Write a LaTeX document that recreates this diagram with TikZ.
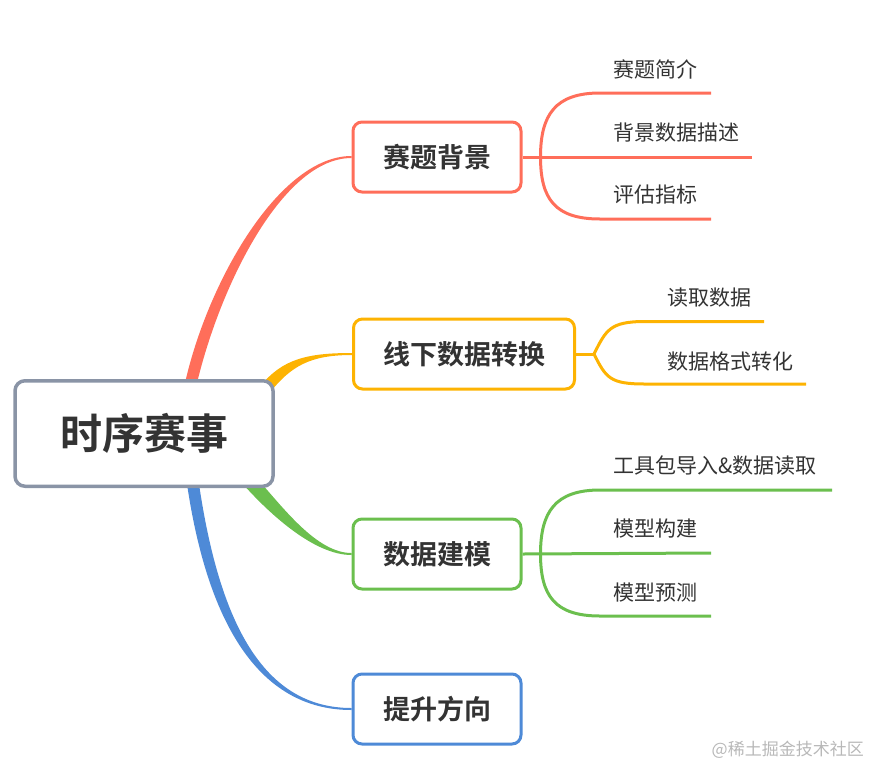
\documentclass[tikz,border=0pt]{standalone}
\usepackage{fontspec}
\setmainfont{Noto Sans CJK SC}[BoldFont={Noto Sans CJK SC Bold}]
\usetikzlibrary{positioning,backgrounds}
\definecolor{redc}{HTML}{FF6E5A}
\definecolor{orangec}{HTML}{FDB302}
\definecolor{greenc}{HTML}{6BBF4E}
\definecolor{bluec}{HTML}{4E8AD7}
\definecolor{grayc}{HTML}{8A94A6}
\definecolor{textc}{HTML}{333333}

\tikzset{
  topic/.style={draw, line width=3pt, rounded corners=9pt, fill=white,
    text=textc, font=\fontsize{27}{31}\selectfont\bfseries,
    minimum width=168pt, minimum height=70pt, inner sep=0pt},
  leaf/.style={anchor=west, text=textc, font=\fontsize{21}{24}\selectfont,
    inner sep=0pt},
  twig/.style={line width=3pt},
}

\begin{document}
\begin{tikzpicture}[x=1pt,y=-1pt]
  \useasboundingbox (0,0) rectangle (874,763);

  % main topic
  \node (root) [draw=grayc, line width=3.5pt, rounded corners=10pt,
                fill=white, text=textc, inner sep=0pt,
                minimum width=258pt, minimum height=105.5pt,
                font=\fontsize{42}{48}\selectfont\bfseries]
        at (144,433.5) {时序赛事};

  % topics
  \node (bg) [topic, draw=redc] at (437,157) {赛题背景};
  \node (zh) [topic, draw=orangec, minimum width=221pt] at (464,354) {线下数据转换};
  \node (jm) [topic, draw=greenc] at (437,554) {数据建模};
  \node (ts) [topic, draw=bluec] at (437,709) {提升方向};

  % tapered branches behind the main topic
  \begin{pgfonlayer}{background}
    \fill [redc] ([xshift=41pt,yshift=-4pt]root.north)
          .. controls +(23,-102) and +(-72,0) .. ([yshift=1pt]bg.west)
          -- ([yshift=-1pt]bg.west)
          .. controls +(-68,0) and +(24,-100) .. ([xshift=53pt,yshift=-4pt]root.north)
          -- cycle;
    \fill [orangec] ([xshift=-15pt,yshift=-8pt]root.north east)
          .. controls +(22,-28) and +(-45,0) .. ([yshift=1pt]zh.west)
          -- ([yshift=-1pt]zh.west)
          .. controls +(-42,0) and +(22,-28) .. ([xshift=-6pt,yshift=-15pt]root.north east)
          -- cycle;
    \fill [greenc] ([xshift=-31pt,yshift=3pt]root.south east)
          .. controls +(27,30) and +(-37,0) .. ([yshift=-1pt]jm.west)
          -- ([yshift=1pt]jm.west)
          .. controls +(-35,0) and +(27,30) .. ([xshift=-19pt,yshift=11pt]root.south east)
          -- cycle;
    \fill [bluec] ([xshift=43pt,yshift=4pt]root.south)
          .. controls +(20,135) and +(-95,0) .. ([yshift=-1pt]ts.west)
          -- ([yshift=1pt]ts.west)
          .. controls +(-90,0) and +(20,135) .. ([xshift=55pt,yshift=4pt]root.south)
          -- cycle;
  \end{pgfonlayer}

  % subtopics of 赛题背景
  \coordinate (bgf) at ([xshift=18pt]bg.east);
  \coordinate (bg1) at (711,93);
  \coordinate (bg2) at (752,157);
  \coordinate (bg3) at (711,219);
  \draw [twig, redc] (bg.east) -- (bg2);
  \draw [twig, redc] (bgf) .. controls +(0,-42) and +(-45,0) .. (600,93) -- (bg1);
  \draw [twig, redc] (bgf) .. controls +(0,42) and +(-45,0) .. (600,219) -- (bg3);
  \node (bgt1) [leaf] at (613,69.5) {赛题简介};
  \node (bgt2) [leaf] at (613,132.5) {背景数据描述};
  \node (bgt3) [leaf] at (613,195) {评估指标};

  % subtopics of 线下数据转换
  \coordinate (zhf) at ([xshift=18pt]zh.east);
  \coordinate (zh1) at (764,321.5);
  \coordinate (zh2) at (806,384);
  \draw [twig, orangec] (zh.east) -- (zhf);
  \draw [twig, orangec] (zhf) .. controls +(12,-24) and +(-35,0) .. (645,321.5) -- (zh1);
  \draw [twig, orangec] (zhf) .. controls +(12,24) and +(-35,0) .. (645,384) -- (zh2);
  \node (zht1) [leaf] at (667,297.5) {读取数据};
  \node (zht2) [leaf] at (667,361.5) {数据格式转化};

  % subtopics of 数据建模
  \coordinate (jmf) at ([xshift=18pt]jm.east);
  \coordinate (jm1) at (832,490);
  \coordinate (jm2) at (711,553);
  \coordinate (jm3) at (711,616);
  \draw [twig, greenc] (jm.east) -- (jm2);
  \draw [twig, greenc] (jmf) .. controls +(0,-42) and +(-45,0) .. (600,490) -- (jm1);
  \draw [twig, greenc] (jmf) .. controls +(0,42) and +(-45,0) .. (600,616) -- (jm3);
  \node (jmt1) [leaf] at (613,465.5) {工具包导入\&数据读取};
  \node (jmt2) [leaf] at (613,528.5) {模型构建};
  \node (jmt3) [leaf] at (613,592.5) {模型预测};

  % watermark
  \node (wm) [anchor=east, inner sep=0pt, text=black!28,
              font=\fontsize{17}{20}\selectfont] at (864,750) {@稀土掘金技术社区};

\end{tikzpicture}
\end{document}
